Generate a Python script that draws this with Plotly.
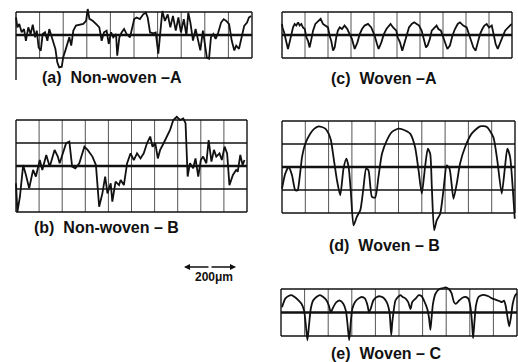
import plotly.graph_objects as go

W, H = 518, 362

# ---------------- data (positions in grid divisions, heights in grid rows) -------------
a_x = [0.00,0.06,0.14,0.24,0.34,0.42,0.52,0.62,0.71,0.81,0.88,0.96,1.05,1.13,1.23,1.33,1.41,1.51,1.58,1.67,
       1.75,1.83,1.94,2.00,2.09,2.17,2.26,2.34,2.43,2.54,2.68,2.85,2.97,3.04,3.11,3.25,3.42,3.53,3.63,3.73,
       3.84,3.93,4.03,4.12,4.24,4.29,4.38,4.48,4.58,4.69,4.83,4.93,5.01,5.11,5.25,5.39,5.50,5.58,5.68,5.82,
       5.92,6.03,6.10,6.20,6.31,6.43,6.54,6.65,6.77,6.88,6.99,7.11,7.22,7.30,7.39,7.50,7.61,7.72,7.81,7.92,
       8.01,8.09,8.18,8.26,8.36,8.46,8.57,8.69,8.80,8.91,9.03,9.14,9.25,9.33,9.45,9.56,9.67,9.79,9.87,9.96]
a_y = [0.77,0.33,0.48,0.12,0.26,-0.25,0.33,0.04,0.45,-0.10,0.19,-0.54,-0.68,0.04,0.12,-0.25,0.26,-0.10,-0.32,-0.61,
       -1.19,-1.41,-1.38,-0.97,-0.68,-0.39,-0.10,-0.46,0.19,0.41,0.45,0.48,0.62,1.13,0.70,0.62,0.45,0.33,-0.25,0.12,
       0.19,-0.39,0.12,-0.10,0.04,-0.90,-0.10,0.12,0.26,0.04,-0.10,0.33,0.69,0.76,0.69,0.90,0.97,0.76,0.11,0.07,
       0.11,-0.81,0.04,1.04,0.61,0.90,0.33,0.83,0.19,0.76,0.11,0.69,-0.03,0.97,0.54,-0.24,0.26,-0.24,-0.67,0.19,
       -0.39,-0.99,-1.03,-0.10,0.04,-0.17,0.11,0.54,0.69,0.61,0.47,-0.24,-0.67,-0.46,-0.60,-0.10,0.40,0.54,0.76,0.83]

b_x = [0.00,0.06,0.17,0.31,0.43,0.57,0.74,0.86,1.03,1.14,1.31,1.46,1.67,1.81,1.89,2.03,2.17,2.31,2.43,2.57,
       2.74,2.96,3.10,3.31,3.46,3.60,3.74,3.86,3.96,4.10,4.17,4.31,4.46,4.53,4.67,4.81,4.96,5.10,5.24,5.39,
       5.53,5.67,5.81,5.91,6.03,6.14,6.24,6.39,6.53,6.67,6.81,6.96,7.10,7.24,7.34,7.43,7.53,7.67,7.77,7.89,
       8.00,8.10,8.24,8.34,8.46,8.57,8.67,8.81,8.91,9.03,9.14,9.24,9.39,9.53,9.60,9.71,9.81,9.89]
b_y = [-0.75,-1.99,-1.33,0.04,-0.39,-0.97,-0.17,-0.46,0.26,-0.17,0.48,-0.03,0.70,0.41,0.12,0.55,0.99,1.06,-0.03,-0.10,
       0.12,0.84,0.70,0.41,0.04,-1.77,-1.19,-0.46,-1.19,-0.75,-1.55,-0.68,-0.83,-0.61,-0.83,0.12,0.55,0.26,0.55,0.33,
       0.55,0.99,1.28,0.84,0.99,0.33,0.70,0.99,1.28,1.57,2.00,2.14,2.00,2.07,1.86,-0.46,0.12,-0.10,0.33,-0.46,
       0.26,0.41,0.12,1.13,0.19,0.70,0.41,0.55,0.26,0.84,0.55,-0.83,-0.39,-0.17,-0.25,0.48,0.04,0.26]

c_x = [0.00,0.02,0.09,0.19,0.26,0.33,0.41,0.48,0.55,0.62,0.70,0.77,0.84,0.91,0.99,1.06,1.13,1.20,1.28,1.35,
       1.45,1.57,1.68,1.78,1.88,2.00,2.07,2.14,2.22,2.29,2.36,2.43,2.51,2.61,2.72,2.84,2.94,3.04,3.16,3.28,
       3.38,3.48,3.59,3.74,3.88,4.03,4.13,4.20,4.32,4.43,4.54,4.61,4.72,4.83,4.97,5.03,5.13,5.23,5.32,5.42,
       5.52,5.64,5.75,5.855,5.96,6.07,6.19,6.26,6.33,6.43,6.51,6.62,6.72,6.80,6.91,7.01,7.09,7.19,7.30,7.41,
       7.52,7.64,7.74,7.88,8.03,8.13,8.22,8.32,8.42,8.51,8.61,8.71,8.80,8.90,9.00,9.12,9.20,9.29,9.38,9.48,
       9.58,9.70,9.81,9.91,9.99]
c_y = [0.48,0.33,0.12,-0.39,-0.61,-0.32,0.12,0.33,0.48,0.41,0.55,0.41,0.48,0.33,0.26,-0.10,-0.25,-0.54,-0.17,0.19,
       0.48,0.62,0.70,0.48,0.41,0.33,-0.03,-0.25,-0.68,-0.54,-0.10,0.19,0.33,0.26,0.41,0.26,0.04,-0.17,-0.61,-0.32,
       0.04,0.26,0.41,0.48,0.33,-0.03,-0.39,-0.61,-0.32,0.04,0.26,0.33,0.48,0.33,0.19,-0.10,-0.32,-0.68,-0.39,0.04,
       0.33,0.48,0.55,0.48,0.41,0.19,-0.25,-0.54,-0.46,-0.17,0.19,0.33,0.41,0.26,0.19,-0.10,-0.32,-0.61,-0.46,-0.03,
       0.26,0.48,0.55,0.41,0.33,0.04,-0.32,-0.54,-0.68,-0.32,0.04,0.26,0.41,0.48,0.33,0.41,-0.03,-0.39,-0.61,-0.39,
       -0.10,0.19,0.33,0.41,0.48]

d_x = [0.00,0.14,0.29,0.43,0.57,0.67,0.76,0.86,1.00,1.21,1.39,1.57,1.71,1.86,2.00,2.10,2.21,2.36,2.50,2.64,
       2.76,2.86,2.96,3.07,3.21,3.36,3.50,3.61,3.71,3.86,4.00,4.14,4.29,4.50,4.71,5.00,5.21,5.50,5.71,5.86,
       6.00,6.14,6.26,6.36,6.43,6.53,6.64,6.79,6.93,7.07,7.19,7.36,7.50,7.64,7.86,8.14,8.50,8.79,9.07,9.24,
       9.43,9.57,9.67,9.79,9.90,9.99]
d_y = [-0.94,-0.29,0.00,-0.36,-1.01,-1.01,-0.43,0.43,1.01,1.45,1.67,1.77,1.74,1.67,1.45,1.16,0.43,-0.58,-1.23,-0.07,
       0.36,0.00,-1.16,-2.54,-2.17,-1.88,-0.87,-0.07,-0.14,-1.30,-1.33,-0.43,0.58,1.16,1.52,1.67,1.62,1.45,0.87,-0.14,
       -1.16,0.00,0.80,0.58,-0.87,-2.75,-2.32,-2.03,-1.01,0.07,-0.07,-1.38,-0.72,0.14,0.87,1.45,1.77,1.74,1.30,0.29,
       -1.16,0.00,0.80,0.43,-0.87,-2.25]

e_x = [0.04,0.09,0.18,0.30,0.44,0.58,0.72,0.87,0.98,1.05,1.12,1.19,1.26,1.36,1.50,1.65,1.79,1.93,2.03,2.11,
       2.21,2.35,2.50,2.64,2.75,2.82,2.89,2.96,3.02,3.13,3.28,3.42,3.56,3.67,3.73,3.82,3.91,4.06,4.20,4.34,
       4.48,4.60,4.67,4.72,4.85,4.96,5.06,5.16,5.28,5.39,5.49,5.56,5.70,5.84,5.96,6.06,6.20,6.27,6.33,6.38,
       6.44,6.55,6.70,6.84,6.98,7.12,7.23,7.33,7.40,7.55,7.69,7.83,7.94,8.03,8.09,8.14,8.20,8.26,8.37,8.51,
       8.65,8.79,8.96,9.11,9.25,9.36,9.45,9.52,9.60,9.67,9.74,9.82,9.93,10.0]
e_y = [0.22,0.37,0.59,0.69,0.74,0.66,0.54,0.37,0.07,-0.51,-1.18,-0.51,0.15,0.51,0.66,0.74,0.66,0.51,0.29,0.00,
       0.22,0.44,0.51,0.37,0.07,-0.51,-1.18,-0.37,0.15,0.44,0.59,0.66,0.59,0.29,0.00,0.22,0.51,0.66,0.69,0.63,
       0.44,0.00,-0.96,-0.37,0.51,0.66,0.74,0.66,0.59,0.44,0.15,0.44,0.59,0.74,0.69,0.51,0.15,-0.22,-0.74,-0.22,
       0.37,0.81,0.99,1.03,1.07,0.99,0.81,0.44,0.37,0.51,0.63,0.66,0.59,0.22,-0.37,-1.10,-0.37,0.29,0.66,0.74,
       0.74,0.69,0.59,0.54,0.49,0.44,0.51,0.29,-0.22,-0.59,-0.22,0.37,0.74,0.81]

labels = ["(a)  Non-woven –A", "(b)  Non-woven – B", "(c)  Woven –A", "(d)  Woven – B", "(e)  Woven – C"]
scale_label = "200μm"

# ---------------- layout of panels (pixel boxes of the grids) ----------------
panels = [
    dict(x=a_x, y=a_y, box=(16, 252, 12, 58), rows=2, padT=8, padB=24, shape="linear", lab=(112, 77)),
    dict(x=b_x, y=b_y, box=(16, 247, 120, 212), rows=4, padT=7, padB=4, shape="linear", lab=(106, 227)),
    dict(x=c_x, y=c_y, box=(282, 512, 12, 58), rows=2, padT=6, padB=6, shape="linear", lab=(384, 78)),
    dict(x=d_x, y=d_y, box=(282, 515, 121, 213), rows=4, padT=6, padB=22, shape="spline", lab=(384, 245)),
    dict(x=e_x, y=e_y, box=(281, 517, 289, 336), rows=2, padT=6, padB=8, shape="spline", lab=(386, 353)),
]

fig = go.Figure()
shapes = []
annotations = []
FONT = "Liberation Sans, Arial, sans-serif"

for i, p in enumerate(panels, start=1):
    suf = "" if i == 1 else str(i)
    L, R, T, B = p["box"]
    n = p["rows"]
    h = n / 2
    cw = (R - L) / 10
    ppu = (B - T) / n
    mid = (T + B) / 2
    dl, dr = max(0, L - 3), min(W, R + 3)
    dt, db = max(0, T - p["padT"]), min(H, B + p["padB"])
    fig.layout["xaxis" + suf] = dict(domain=[dl / W, dr / W], range=[(dl - L) / cw, (dr - L) / cw],
                                     visible=False, anchor="y" + suf, fixedrange=True)
    fig.layout["yaxis" + suf] = dict(domain=[1 - db / H, 1 - dt / H], range=[(mid - db) / ppu, (mid - dt) / ppu],
                                     visible=False, anchor="x" + suf, fixedrange=True)
    line = dict(color="#111", width=1.8, shape=p["shape"])
    if p["shape"] == "spline":
        line["smoothing"] = 0.6
    fig.add_trace(go.Scatter(x=p["x"], y=p["y"], xaxis="x" + suf, yaxis="y" + suf, mode="lines",
                             line=line, hoverinfo="skip", showlegend=False))
    for k in range(11):
        edge = k in (0, 10)
        shapes.append(dict(type="line", xref="x" + suf, yref="y" + suf, x0=k, x1=k, y0=-h, y1=h, layer="below",
                           line=dict(color="#222" if edge else "#555", width=1.5 if edge else 1.0)))
    for j in range(n + 1):
        v = -h + j
        w = 2.4 if v == 0 else (1.6 if abs(v) == h else 1.3)
        shapes.append(dict(type="line", xref="x" + suf, yref="y" + suf, x0=0, x1=10, y0=v, y1=v, layer="below",
                           line=dict(color="#111", width=w)))
    if i == 1:
        shapes.append(dict(type="line", xref="x", yref="y", x0=0, x1=0, y0=-h, y1=-h - 22 / ppu, layer="below",
                           line=dict(color="#222", width=1.5)))
    lx, ly = p["lab"]
    annotations.append(dict(x=lx / W, y=1 - ly / H, xref="paper", yref="paper", showarrow=False,
                            text="<b>" + labels[i - 1] + "</b>", font=dict(family=FONT, size=16, color="#111"),
                            xanchor="center", yanchor="middle"))

# scale bar
for x0, ax in ((184, 26), (236, -26)):
    annotations.append(dict(x=x0 / W, y=1 - 267 / H, xref="paper", yref="paper", showarrow=True, text="",
                            ax=ax, ay=0, arrowhead=2, arrowsize=0.8, arrowwidth=1.5, arrowcolor="#111"))
annotations.append(dict(x=214 / W, y=1 - 277 / H, xref="paper", yref="paper", showarrow=False,
                        text="<b>" + scale_label + "</b>", font=dict(family=FONT, size=12, color="#111"),
                        xanchor="center", yanchor="middle"))

fig.update_layout(width=W, height=H, margin=dict(l=0, r=0, t=0, b=0), paper_bgcolor="white",
                  plot_bgcolor="rgba(0,0,0,0)", shapes=shapes, annotations=annotations, showlegend=False)
fig.write_html("out.html")
